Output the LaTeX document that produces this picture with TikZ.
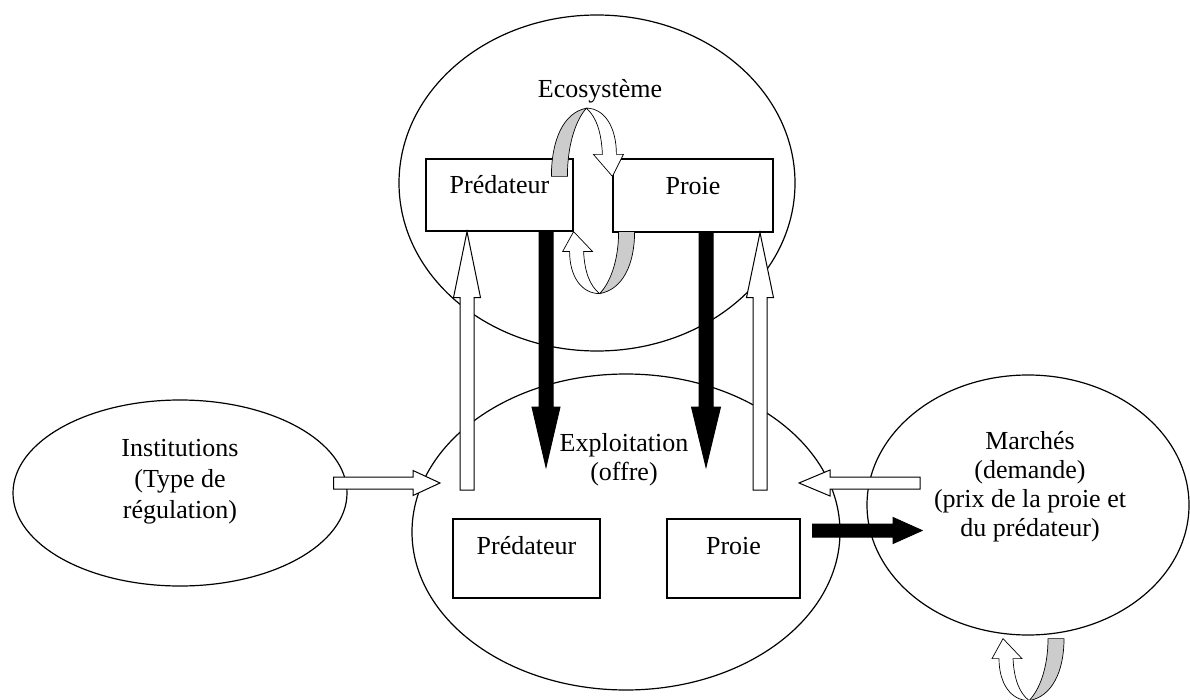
\documentclass[tikz,border=0pt]{standalone}
\usepackage{fontspec}
\setmainfont{Liberation Serif}
\usetikzlibrary{shapes.geometric, calc}
\definecolor{ringgray}{RGB}{204,204,204}

% fat block arrow: fill, shaft half width, head half width, head length, from, to
\newcommand{\fatarrow}[6]{%
  \draw[fill=#1, line width=1pt, line join=miter]
    ($(#5)!#2!90:(#6)$) -- ($(#6)!#4!(#5)!#2!90:(#6)$) -- ($(#6)!#4!(#5)!#3!90:(#6)$) -- (#6)
    -- ($(#6)!#4!(#5)!#3!-90:(#6)$) -- ($(#6)!#4!(#5)!#2!-90:(#6)$) -- ($(#5)!#2!-90:(#6)$) -- cycle;}

\tikzset{
  zone/.style={draw, ellipse, line width=1.2pt, inner sep=0pt},
  box/.style={draw, rectangle, line width=1.2pt, fill=white, inner sep=0pt, text height=18pt},
  ring/.pic={
    \draw[fill=ringgray, line width=0.7pt] (45,0) -- (61,0) .. controls (61,33) and (49,58) .. (26,62)
      .. controls (36,52) and (45,30) .. (45,0) -- cycle;
    \draw[fill=white, line width=0.7pt] (0,0) -- (19,20) -- (10,20) .. controls (11,40) and (16,54) .. (26,62)
      .. controls (8,62) and (-4,45) .. (-4,20) -- (-11,20) -- cycle;
  }
}

\begin{document}
\begin{tikzpicture}[x=1pt, y=-1pt, font=\fontsize{26}{29}\selectfont]
\useasboundingbox (0,0) rectangle (1190,700);

% zones
\node[zone, minimum width=396pt, minimum height=336pt] (eco) at (597,183) {};
\node[zone, minimum width=428pt, minimum height=316pt] (expl) at (626,532) {};
\node[zone, minimum width=334pt, minimum height=186pt] (inst) at (180,493) {};
\node[zone, minimum width=322pt, minimum height=260pt] (march) at (1028,505) {};

% zone labels
\node (ecot) at (600,91) {Ecosystème};
\node[align=center] (explt) at (624,460) {Exploitation\\(offre)};
\node[align=center, font=\fontsize{26}{31}\selectfont] (instt) at (180,482) {Institutions\\(Type de\\régulation)};
\node[align=center] (marcht) at (1030,487) {Marchés\\(demande)\\(prix de la proie et\\du prédateur)};

% boxes
\node[box, minimum width=147pt, minimum height=72pt, text depth=20pt] (epred) at (499.5,195) {Prédateur};
\node[box, minimum width=160pt, minimum height=73pt, text depth=20pt] (eproie) at (693,195.5) {Proie};
\node[box, minimum width=147pt, minimum height=79pt, text depth=27pt] (xpred) at (526.5,558.5) {Prédateur};
\node[box, minimum width=133pt, minimum height=79pt, text depth=27pt] (xproie) at (733.5,558.5) {Proie};

% free ends
\coordinate (u1) at (467,490);
\coordinate (d1) at (546,467);
\coordinate (d2) at (706,467);
\coordinate (u2) at (760,490);
\coordinate (i1) at ($(inst.east)+(-14,-10)$);
\coordinate (i2) at (440,483);
\coordinate (m1) at (920,483);
\coordinate (m2) at (799,483);
\coordinate (p1) at ($(xproie.east)+(12,-28)$);
\coordinate (p2) at (922,530.5);

% flows
\fatarrow{white}{7pt}{13.5pt}{66pt}{u1}{u1 |- epred.south}
\fatarrow{black}{7pt}{14pt}{60pt}{d1 |- epred.south}{d1}
\fatarrow{black}{7pt}{14.5pt}{60pt}{d2 |- eproie.south}{d2}
\fatarrow{white}{7pt}{13.5pt}{65pt}{u2}{u2 |- eproie.south}
\fatarrow{white}{6pt}{12.5pt}{27pt}{i1}{i2}
\fatarrow{white}{6pt}{13pt}{31pt}{m1}{m2}
\fatarrow{black}{6.5pt}{13pt}{29pt}{p1}{p2}

% loops
\pic at (epred.south east) {ring};
\pic[rotate=180, yscale=1.1] at ($(eproie.north west)+(0,18)$) {ring};
\pic at ($(march.south)+(-25,3)$) {ring};
\end{tikzpicture}
\end{document}
